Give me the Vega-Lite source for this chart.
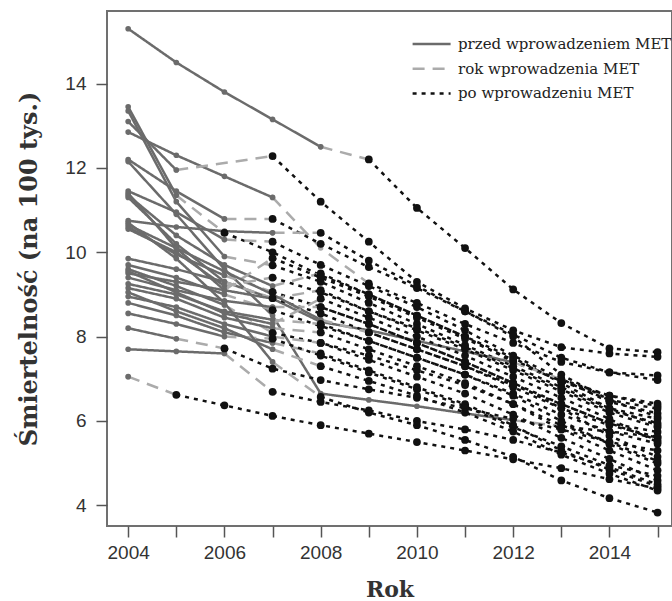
{
"$schema": "https://vega.github.io/schema/vega-lite/v6.json",
"width": 565, "height": 515,
"autosize": {"type": "none"},
"padding": {"left": 107, "top": 11, "right": 0, "bottom": 75},
"background": "white",
"config": {
  "view": {"stroke": "#707070", "strokeWidth": 2},
  "legend": {"orient": "none", "legendX": 313.6, "legendY": 22, "title": null, "symbolType": "M-2,0L2,0", "symbolSize": 361, "symbolStrokeWidth": 2.5, "labelFont": "DejaVu Serif", "labelFontSize": 15, "labelColor": "#222", "labelOffset": 15.4, "rowPadding": 5.7, "labelLimit": 400}
},
"data": {"values": [
{"s":1,"g":"pre","x":2004,"y":15.3},{"s":1,"g":"pre","x":2005,"y":14.5},{"s":1,"g":"pre","x":2006,"y":13.8},{"s":1,"g":"pre","x":2007,"y":13.15},{"s":1,"g":"pre","x":2008,"y":12.5},
{"s":1,"g":"rok","x":2008,"y":12.5},{"s":1,"g":"rok","x":2009,"y":12.2},
{"s":1,"g":"po","x":2009,"y":12.2},{"s":1,"g":"po","x":2010,"y":11.05},{"s":1,"g":"po","x":2011,"y":10.1},{"s":1,"g":"po","x":2012,"y":9.12},{"s":1,"g":"po","x":2013,"y":8.32},{"s":1,"g":"po","x":2014,"y":7.72},{"s":1,"g":"po","x":2015,"y":7.63},

{"s":2,"g":"pre","x":2004,"y":12.85},{"s":2,"g":"pre","x":2005,"y":12.3},{"s":2,"g":"pre","x":2006,"y":11.8},{"s":2,"g":"pre","x":2007,"y":11.3},
{"s":2,"g":"rok","x":2007,"y":11.3},{"s":2,"g":"rok","x":2008,"y":10.1},{"s":2,"g":"rok","x":2009,"y":9.26},
{"s":2,"g":"po","x":2009,"y":9.26},{"s":2,"g":"po","x":2010,"y":8.8},{"s":2,"g":"po","x":2011,"y":8.3},{"s":2,"g":"po","x":2012,"y":7.85},{"s":2,"g":"po","x":2013,"y":7.4},{"s":2,"g":"po","x":2014,"y":7.15},{"s":2,"g":"po","x":2015,"y":7.08},

{"s":3,"g":"pre","x":2004,"y":13.1},{"s":3,"g":"pre","x":2005,"y":11.95},
{"s":3,"g":"rok","x":2005,"y":11.95},{"s":3,"g":"rok","x":2007,"y":12.28},
{"s":3,"g":"po","x":2007,"y":12.28},{"s":3,"g":"po","x":2008,"y":11.2},{"s":3,"g":"po","x":2009,"y":10.25},{"s":3,"g":"po","x":2010,"y":9.3},{"s":3,"g":"po","x":2011,"y":8.67},{"s":3,"g":"po","x":2012,"y":8.15},{"s":3,"g":"po","x":2013,"y":7.75},{"s":3,"g":"po","x":2014,"y":7.6},{"s":3,"g":"po","x":2015,"y":7.52},

{"s":4,"g":"pre","x":2004,"y":13.45},{"s":4,"g":"pre","x":2005,"y":11.35},
{"s":4,"g":"rok","x":2005,"y":11.35},{"s":4,"g":"rok","x":2006,"y":10.46},
{"s":4,"g":"po","x":2006,"y":10.46},{"s":4,"g":"po","x":2007,"y":10.0},{"s":4,"g":"po","x":2008,"y":9.45},{"s":4,"g":"po","x":2009,"y":9.0},{"s":4,"g":"po","x":2010,"y":8.5},{"s":4,"g":"po","x":2011,"y":8.0},{"s":4,"g":"po","x":2012,"y":7.4},{"s":4,"g":"po","x":2013,"y":6.95},{"s":4,"g":"po","x":2014,"y":6.6},{"s":4,"g":"po","x":2015,"y":6.41},

{"s":5,"g":"pre","x":2004,"y":12.2},{"s":5,"g":"pre","x":2005,"y":11.45},{"s":5,"g":"pre","x":2006,"y":10.79},
{"s":5,"g":"rok","x":2006,"y":10.79},{"s":5,"g":"rok","x":2007,"y":10.79},
{"s":5,"g":"po","x":2007,"y":10.79},{"s":5,"g":"po","x":2008,"y":10.2},{"s":5,"g":"po","x":2009,"y":9.65},{"s":5,"g":"po","x":2010,"y":9.15},{"s":5,"g":"po","x":2011,"y":8.6},{"s":5,"g":"po","x":2012,"y":8.05},{"s":5,"g":"po","x":2013,"y":7.5},{"s":5,"g":"po","x":2014,"y":7.15},{"s":5,"g":"po","x":2015,"y":6.97},

{"s":6,"g":"pre","x":2004,"y":10.75},{"s":6,"g":"pre","x":2005,"y":10.6},{"s":6,"g":"pre","x":2006,"y":10.5},{"s":6,"g":"pre","x":2007,"y":10.46},
{"s":6,"g":"rok","x":2007,"y":10.46},{"s":6,"g":"rok","x":2008,"y":10.46},
{"s":6,"g":"po","x":2008,"y":10.46},{"s":6,"g":"po","x":2009,"y":9.8},{"s":6,"g":"po","x":2010,"y":9.2},{"s":6,"g":"po","x":2011,"y":8.6},{"s":6,"g":"po","x":2012,"y":8.0},{"s":6,"g":"po","x":2013,"y":7.1},{"s":6,"g":"po","x":2014,"y":6.5},{"s":6,"g":"po","x":2015,"y":6.29},

{"s":7,"g":"pre","x":2004,"y":11.45},{"s":7,"g":"pre","x":2005,"y":10.95},{"s":7,"g":"pre","x":2006,"y":10.3},
{"s":7,"g":"rok","x":2006,"y":10.3},{"s":7,"g":"rok","x":2007,"y":10.25},
{"s":7,"g":"po","x":2007,"y":10.25},{"s":7,"g":"po","x":2008,"y":9.7},{"s":7,"g":"po","x":2009,"y":9.2},{"s":7,"g":"po","x":2010,"y":8.7},{"s":7,"g":"po","x":2011,"y":8.15},{"s":7,"g":"po","x":2012,"y":7.55},{"s":7,"g":"po","x":2013,"y":7.0},{"s":7,"g":"po","x":2014,"y":6.45},{"s":7,"g":"po","x":2015,"y":6.18},

{"s":8,"g":"pre","x":2004,"y":13.35},{"s":8,"g":"pre","x":2005,"y":11.2},{"s":8,"g":"pre","x":2006,"y":9.9},
{"s":8,"g":"rok","x":2006,"y":9.9},{"s":8,"g":"rok","x":2007,"y":9.69},
{"s":8,"g":"po","x":2007,"y":9.69},{"s":8,"g":"po","x":2008,"y":9.3},{"s":8,"g":"po","x":2009,"y":8.8},{"s":8,"g":"po","x":2010,"y":8.3},{"s":8,"g":"po","x":2011,"y":7.8},{"s":8,"g":"po","x":2012,"y":7.3},{"s":8,"g":"po","x":2013,"y":6.8},{"s":8,"g":"po","x":2014,"y":6.3},{"s":8,"g":"po","x":2015,"y":6.05},

{"s":9,"g":"pre","x":2004,"y":11.35},{"s":9,"g":"pre","x":2005,"y":10.4},{"s":9,"g":"pre","x":2006,"y":9.7},{"s":9,"g":"pre","x":2007,"y":9.2},
{"s":9,"g":"rok","x":2007,"y":9.2},{"s":9,"g":"rok","x":2008,"y":9.5},
{"s":9,"g":"po","x":2008,"y":9.5},{"s":9,"g":"po","x":2009,"y":9.0},{"s":9,"g":"po","x":2010,"y":8.5},{"s":9,"g":"po","x":2011,"y":8.0},{"s":9,"g":"po","x":2012,"y":7.5},{"s":9,"g":"po","x":2013,"y":6.9},{"s":9,"g":"po","x":2014,"y":6.3},{"s":9,"g":"po","x":2015,"y":5.9},

{"s":10,"g":"pre","x":2004,"y":11.3},{"s":10,"g":"pre","x":2005,"y":10.2},{"s":10,"g":"pre","x":2006,"y":9.3},{"s":10,"g":"pre","x":2007,"y":8.9},{"s":10,"g":"pre","x":2008,"y":8.35},{"s":10,"g":"pre","x":2009,"y":8.15},{"s":10,"g":"pre","x":2010,"y":7.9},{"s":10,"g":"pre","x":2011,"y":7.65},{"s":10,"g":"pre","x":2012,"y":7.39},
{"s":10,"g":"rok","x":2012,"y":7.39},{"s":10,"g":"rok","x":2013,"y":6.99},
{"s":10,"g":"po","x":2013,"y":6.99},{"s":10,"g":"po","x":2014,"y":6.6},{"s":10,"g":"po","x":2015,"y":6.35},

{"s":11,"g":"pre","x":2004,"y":12.15},{"s":11,"g":"pre","x":2005,"y":10.9},{"s":11,"g":"pre","x":2006,"y":9.6},{"s":11,"g":"pre","x":2007,"y":8.5},{"s":11,"g":"pre","x":2008,"y":6.65},{"s":11,"g":"pre","x":2009,"y":6.5},{"s":11,"g":"pre","x":2010,"y":6.35},{"s":11,"g":"pre","x":2011,"y":6.18},{"s":11,"g":"pre","x":2012,"y":6.02},
{"s":11,"g":"rok","x":2012,"y":6.02},{"s":11,"g":"rok","x":2013,"y":5.87},
{"s":11,"g":"po","x":2013,"y":5.87},{"s":11,"g":"po","x":2014,"y":5.75},{"s":11,"g":"po","x":2015,"y":5.62},

{"s":12,"g":"pre","x":2004,"y":10.6},{"s":12,"g":"pre","x":2005,"y":9.95},{"s":12,"g":"pre","x":2006,"y":9.45},
{"s":12,"g":"rok","x":2006,"y":9.45},{"s":12,"g":"rok","x":2007,"y":9.06},
{"s":12,"g":"po","x":2007,"y":9.06},{"s":12,"g":"po","x":2008,"y":8.7},{"s":12,"g":"po","x":2009,"y":8.3},{"s":12,"g":"po","x":2010,"y":7.85},{"s":12,"g":"po","x":2011,"y":7.4},{"s":12,"g":"po","x":2012,"y":6.9},{"s":12,"g":"po","x":2013,"y":6.4},{"s":12,"g":"po","x":2014,"y":5.95},{"s":12,"g":"po","x":2015,"y":5.74},

{"s":13,"g":"pre","x":2004,"y":9.85},{"s":13,"g":"pre","x":2005,"y":9.6},{"s":13,"g":"pre","x":2006,"y":9.3},
{"s":13,"g":"rok","x":2006,"y":9.3},{"s":13,"g":"rok","x":2007,"y":8.91},
{"s":13,"g":"po","x":2007,"y":8.91},{"s":13,"g":"po","x":2008,"y":8.55},{"s":13,"g":"po","x":2009,"y":8.1},{"s":13,"g":"po","x":2010,"y":7.7},{"s":13,"g":"po","x":2011,"y":7.3},{"s":13,"g":"po","x":2012,"y":6.8},{"s":13,"g":"po","x":2013,"y":6.3},{"s":13,"g":"po","x":2014,"y":5.9},{"s":13,"g":"po","x":2015,"y":5.62},

{"s":14,"g":"pre","x":2004,"y":9.7},{"s":14,"g":"pre","x":2005,"y":9.4},{"s":14,"g":"pre","x":2006,"y":9.0},
{"s":14,"g":"rok","x":2006,"y":9.0},{"s":14,"g":"rok","x":2007,"y":8.63},
{"s":14,"g":"po","x":2007,"y":8.63},{"s":14,"g":"po","x":2008,"y":8.25},{"s":14,"g":"po","x":2009,"y":7.9},{"s":14,"g":"po","x":2010,"y":7.5},{"s":14,"g":"po","x":2011,"y":7.1},{"s":14,"g":"po","x":2012,"y":6.65},{"s":14,"g":"po","x":2013,"y":6.15},{"s":14,"g":"po","x":2014,"y":5.75},{"s":14,"g":"po","x":2015,"y":5.46},

{"s":15,"g":"pre","x":2004,"y":9.6},{"s":15,"g":"pre","x":2005,"y":9.2},{"s":15,"g":"pre","x":2006,"y":8.75},
{"s":15,"g":"rok","x":2006,"y":8.75},{"s":15,"g":"rok","x":2007,"y":8.09},
{"s":15,"g":"po","x":2007,"y":8.09},{"s":15,"g":"po","x":2008,"y":7.85},{"s":15,"g":"po","x":2009,"y":7.55},{"s":15,"g":"po","x":2010,"y":7.2},{"s":15,"g":"po","x":2011,"y":6.85},{"s":15,"g":"po","x":2012,"y":6.4},{"s":15,"g":"po","x":2013,"y":5.9},{"s":15,"g":"po","x":2014,"y":5.5},{"s":15,"g":"po","x":2015,"y":5.3},

{"s":16,"g":"pre","x":2004,"y":9.5},{"s":16,"g":"pre","x":2005,"y":9.3},{"s":16,"g":"pre","x":2006,"y":9.1},{"s":16,"g":"pre","x":2007,"y":8.9},
{"s":16,"g":"rok","x":2007,"y":8.9},{"s":16,"g":"rok","x":2008,"y":9.1},
{"s":16,"g":"po","x":2008,"y":9.1},{"s":16,"g":"po","x":2009,"y":8.6},{"s":16,"g":"po","x":2010,"y":8.15},{"s":16,"g":"po","x":2011,"y":7.7},{"s":16,"g":"po","x":2012,"y":7.2},{"s":16,"g":"po","x":2013,"y":6.7},{"s":16,"g":"po","x":2014,"y":6.2},{"s":16,"g":"po","x":2015,"y":5.85},

{"s":17,"g":"pre","x":2004,"y":9.4},{"s":17,"g":"pre","x":2005,"y":9.1},{"s":17,"g":"pre","x":2006,"y":8.85},{"s":17,"g":"pre","x":2007,"y":8.7},
{"s":17,"g":"rok","x":2007,"y":8.7},{"s":17,"g":"rok","x":2008,"y":8.7},
{"s":17,"g":"po","x":2008,"y":8.7},{"s":17,"g":"po","x":2009,"y":8.3},{"s":17,"g":"po","x":2010,"y":7.85},{"s":17,"g":"po","x":2011,"y":7.4},{"s":17,"g":"po","x":2012,"y":6.9},{"s":17,"g":"po","x":2013,"y":6.3},{"s":17,"g":"po","x":2014,"y":5.65},{"s":17,"g":"po","x":2015,"y":5.15},

{"s":18,"g":"pre","x":2004,"y":9.25},{"s":18,"g":"pre","x":2005,"y":9.0},{"s":18,"g":"pre","x":2006,"y":8.6},{"s":18,"g":"pre","x":2007,"y":8.4},
{"s":18,"g":"rok","x":2007,"y":8.4},{"s":18,"g":"rok","x":2008,"y":8.3},
{"s":18,"g":"po","x":2008,"y":8.3},{"s":18,"g":"po","x":2009,"y":7.9},{"s":18,"g":"po","x":2010,"y":7.5},{"s":18,"g":"po","x":2011,"y":7.1},{"s":18,"g":"po","x":2012,"y":6.6},{"s":18,"g":"po","x":2013,"y":6.0},{"s":18,"g":"po","x":2014,"y":5.45},{"s":18,"g":"po","x":2015,"y":4.99},

{"s":19,"g":"pre","x":2004,"y":9.15},{"s":19,"g":"pre","x":2005,"y":8.9},{"s":19,"g":"pre","x":2006,"y":8.45},{"s":19,"g":"pre","x":2007,"y":8.2},
{"s":19,"g":"rok","x":2007,"y":8.2},{"s":19,"g":"rok","x":2008,"y":8.1},
{"s":19,"g":"po","x":2008,"y":8.1},{"s":19,"g":"po","x":2009,"y":7.7},{"s":19,"g":"po","x":2010,"y":7.3},{"s":19,"g":"po","x":2011,"y":6.9},{"s":19,"g":"po","x":2012,"y":6.4},{"s":19,"g":"po","x":2013,"y":5.8},{"s":19,"g":"po","x":2014,"y":5.3},{"s":19,"g":"po","x":2015,"y":4.83},

{"s":20,"g":"pre","x":2004,"y":8.95},{"s":20,"g":"pre","x":2005,"y":8.7},{"s":20,"g":"pre","x":2006,"y":8.3},{"s":20,"g":"pre","x":2007,"y":8.0},
{"s":20,"g":"rok","x":2007,"y":8.0},{"s":20,"g":"rok","x":2008,"y":7.85},
{"s":20,"g":"po","x":2008,"y":7.85},{"s":20,"g":"po","x":2009,"y":7.45},{"s":20,"g":"po","x":2010,"y":7.05},{"s":20,"g":"po","x":2011,"y":6.65},{"s":20,"g":"po","x":2012,"y":6.15},{"s":20,"g":"po","x":2013,"y":5.6},{"s":20,"g":"po","x":2014,"y":5.1},{"s":20,"g":"po","x":2015,"y":4.59},

{"s":21,"g":"pre","x":2004,"y":8.8},{"s":21,"g":"pre","x":2005,"y":8.5},{"s":21,"g":"pre","x":2006,"y":8.1},{"s":21,"g":"pre","x":2007,"y":7.85},
{"s":21,"g":"rok","x":2007,"y":7.85},{"s":21,"g":"rok","x":2008,"y":7.6},
{"s":21,"g":"po","x":2008,"y":7.6},{"s":21,"g":"po","x":2009,"y":7.2},{"s":21,"g":"po","x":2010,"y":6.8},{"s":21,"g":"po","x":2011,"y":6.4},{"s":21,"g":"po","x":2012,"y":5.9},{"s":21,"g":"po","x":2013,"y":5.3},{"s":21,"g":"po","x":2014,"y":4.85},{"s":21,"g":"po","x":2015,"y":4.45},

{"s":22,"g":"pre","x":2004,"y":8.55},{"s":22,"g":"pre","x":2005,"y":8.3},{"s":22,"g":"pre","x":2006,"y":8.0},
{"s":22,"g":"rok","x":2006,"y":8.0},{"s":22,"g":"rok","x":2007,"y":7.95},
{"s":22,"g":"po","x":2007,"y":7.95},{"s":22,"g":"po","x":2008,"y":7.55},{"s":22,"g":"po","x":2009,"y":7.15},{"s":22,"g":"po","x":2010,"y":6.75},{"s":22,"g":"po","x":2011,"y":6.35},{"s":22,"g":"po","x":2012,"y":5.85},{"s":22,"g":"po","x":2013,"y":5.4},{"s":22,"g":"po","x":2014,"y":4.95},{"s":22,"g":"po","x":2015,"y":4.7},

{"s":23,"g":"pre","x":2004,"y":8.2},{"s":23,"g":"pre","x":2005,"y":7.95},
{"s":23,"g":"rok","x":2005,"y":7.95},{"s":23,"g":"rok","x":2006,"y":7.72},
{"s":23,"g":"po","x":2006,"y":7.72},{"s":23,"g":"po","x":2007,"y":7.24},{"s":23,"g":"po","x":2008,"y":6.97},{"s":23,"g":"po","x":2009,"y":6.75},{"s":23,"g":"po","x":2010,"y":6.55},{"s":23,"g":"po","x":2011,"y":6.3},{"s":23,"g":"po","x":2012,"y":6.05},{"s":23,"g":"po","x":2013,"y":5.8},{"s":23,"g":"po","x":2014,"y":5.5},{"s":23,"g":"po","x":2015,"y":5.05},

{"s":24,"g":"pre","x":2004,"y":7.7},{"s":24,"g":"pre","x":2005,"y":7.65},{"s":24,"g":"pre","x":2006,"y":7.6},
{"s":24,"g":"rok","x":2006,"y":7.6},{"s":24,"g":"rok","x":2007,"y":6.69},
{"s":24,"g":"po","x":2007,"y":6.69},{"s":24,"g":"po","x":2008,"y":6.45},{"s":24,"g":"po","x":2009,"y":6.25},{"s":24,"g":"po","x":2010,"y":6.0},{"s":24,"g":"po","x":2011,"y":5.8},{"s":24,"g":"po","x":2012,"y":5.55},{"s":24,"g":"po","x":2013,"y":5.25},{"s":24,"g":"po","x":2014,"y":4.9},{"s":24,"g":"po","x":2015,"y":4.5},

{"s":25,"g":"pre","x":2004,"y":7.05},
{"s":25,"g":"rok","x":2004,"y":7.05},{"s":25,"g":"rok","x":2005,"y":6.62},
{"s":25,"g":"po","x":2005,"y":6.62},{"s":25,"g":"po","x":2006,"y":6.37},{"s":25,"g":"po","x":2007,"y":6.12},{"s":25,"g":"po","x":2008,"y":5.9},{"s":25,"g":"po","x":2009,"y":5.7},{"s":25,"g":"po","x":2010,"y":5.5},{"s":25,"g":"po","x":2011,"y":5.3},{"s":25,"g":"po","x":2012,"y":5.09},{"s":25,"g":"po","x":2013,"y":4.88},{"s":25,"g":"po","x":2014,"y":4.62},{"s":25,"g":"po","x":2015,"y":4.4},

{"s":26,"g":"pre","x":2004,"y":10.7},{"s":26,"g":"pre","x":2005,"y":9.85},{"s":26,"g":"pre","x":2006,"y":8.8},{"s":26,"g":"pre","x":2007,"y":7.4},
{"s":26,"g":"rok","x":2007,"y":7.4},{"s":26,"g":"rok","x":2008,"y":6.57},
{"s":26,"g":"po","x":2008,"y":6.57},{"s":26,"g":"po","x":2009,"y":6.2},{"s":26,"g":"po","x":2010,"y":5.9},{"s":26,"g":"po","x":2011,"y":5.55},{"s":26,"g":"po","x":2012,"y":5.15},{"s":26,"g":"po","x":2013,"y":4.59},{"s":26,"g":"po","x":2014,"y":4.17},{"s":26,"g":"po","x":2015,"y":3.83},

{"s":27,"g":"pre","x":2004,"y":11.4},{"s":27,"g":"pre","x":2005,"y":10.1},{"s":27,"g":"pre","x":2006,"y":9.1},
{"s":27,"g":"rok","x":2006,"y":9.1},{"s":27,"g":"rok","x":2007,"y":9.86},
{"s":27,"g":"po","x":2007,"y":9.86},{"s":27,"g":"po","x":2008,"y":9.4},{"s":27,"g":"po","x":2009,"y":8.95},{"s":27,"g":"po","x":2010,"y":8.45},{"s":27,"g":"po","x":2011,"y":7.95},{"s":27,"g":"po","x":2012,"y":7.45},{"s":27,"g":"po","x":2013,"y":6.95},{"s":27,"g":"po","x":2014,"y":6.5},{"s":27,"g":"po","x":2015,"y":6.1},

{"s":28,"g":"pre","x":2004,"y":10.65},{"s":28,"g":"pre","x":2005,"y":10.1},{"s":28,"g":"pre","x":2006,"y":9.55},{"s":28,"g":"pre","x":2007,"y":9.0},{"s":28,"g":"pre","x":2008,"y":8.4},
{"s":28,"g":"rok","x":2008,"y":8.4},{"s":28,"g":"rok","x":2009,"y":8.1},
{"s":28,"g":"po","x":2009,"y":8.1},{"s":28,"g":"po","x":2010,"y":7.7},{"s":28,"g":"po","x":2011,"y":7.3},{"s":28,"g":"po","x":2012,"y":6.85},{"s":28,"g":"po","x":2013,"y":6.4},{"s":28,"g":"po","x":2014,"y":5.95},{"s":28,"g":"po","x":2015,"y":5.55},

{"s":29,"g":"pre","x":2004,"y":9.55},{"s":29,"g":"pre","x":2005,"y":9.05},{"s":29,"g":"pre","x":2006,"y":8.55},{"s":29,"g":"pre","x":2007,"y":8.3},
{"s":29,"g":"rok","x":2007,"y":8.3},{"s":29,"g":"rok","x":2008,"y":8.9},
{"s":29,"g":"po","x":2008,"y":8.9},{"s":29,"g":"po","x":2009,"y":8.45},{"s":29,"g":"po","x":2010,"y":8.0},{"s":29,"g":"po","x":2011,"y":7.55},{"s":29,"g":"po","x":2012,"y":7.05},{"s":29,"g":"po","x":2013,"y":6.55},{"s":29,"g":"po","x":2014,"y":6.05},{"s":29,"g":"po","x":2015,"y":5.5},

{"s":30,"g":"pre","x":2004,"y":10.55},{"s":30,"g":"pre","x":2005,"y":10.0},{"s":30,"g":"pre","x":2006,"y":9.2},
{"s":30,"g":"rok","x":2006,"y":9.2},{"s":30,"g":"rok","x":2007,"y":9.4},
{"s":30,"g":"po","x":2007,"y":9.4},{"s":30,"g":"po","x":2008,"y":9.05},{"s":30,"g":"po","x":2009,"y":8.6},{"s":30,"g":"po","x":2010,"y":8.2},{"s":30,"g":"po","x":2011,"y":7.75},{"s":30,"g":"po","x":2012,"y":7.25},{"s":30,"g":"po","x":2013,"y":6.75},{"s":30,"g":"po","x":2014,"y":6.25},{"s":30,"g":"po","x":2015,"y":5.95},

{"s":31,"g":"pre","x":2004,"y":9.05},{"s":31,"g":"pre","x":2005,"y":8.6},{"s":31,"g":"pre","x":2006,"y":8.2},{"s":31,"g":"pre","x":2007,"y":7.7},
{"s":31,"g":"rok","x":2007,"y":7.7},{"s":31,"g":"rok","x":2008,"y":7.3},
{"s":31,"g":"po","x":2008,"y":7.3},{"s":31,"g":"po","x":2009,"y":6.95},{"s":31,"g":"po","x":2010,"y":6.6},{"s":31,"g":"po","x":2011,"y":6.2},{"s":31,"g":"po","x":2012,"y":5.75},{"s":31,"g":"po","x":2013,"y":5.2},{"s":31,"g":"po","x":2014,"y":4.75},{"s":31,"g":"po","x":2015,"y":4.35}
]},
"encoding": {
  "x": {"field": "x", "type": "quantitative",
    "scale": {"domain": [2003.56, 2015.3], "nice": false, "zero": false},
    "axis": {"title": "Rok", "values": [2004,2005,2006,2007,2008,2009,2010,2011,2012,2013,2014,2015], "format": "d",
      "labelExpr": "datum.value % 2 == 0 ? datum.label : ''",
      "grid": false, "domain": false, "tickSize": 11, "tickColor": "#555", "tickWidth": 1.5,
      "labelFont": "Liberation Sans", "labelFontSize": 19, "labelColor": "#333", "labelPadding": 6, "labelOverlap": false,
      "titleFont": "DejaVu Serif", "titleFontSize": 22, "titleFontWeight": "bold", "titleColor": "#333", "titlePadding": 17}},
  "y": {"field": "y", "type": "quantitative",
    "scale": {"domain": [3.51, 15.72], "nice": false, "zero": false},
    "axis": {"title": "Śmiertelność (na 100 tys.)", "values": [4,6,8,10,12,14],
      "grid": false, "domain": false, "tickSize": 11, "tickColor": "#555", "tickWidth": 1.5,
      "labelFont": "Liberation Sans", "labelFontSize": 19, "labelColor": "#333", "labelPadding": 10,
      "titleFont": "DejaVu Serif", "titleFontSize": 24, "titleFontWeight": "bold", "titleColor": "#333", "titlePadding": 23}}
},
"layer": [
  {"mark": {"type": "line"},
   "encoding": {
     "detail": {"field": "s", "type": "nominal"},
     "color": {"field": "g", "type": "nominal", "scale": {"domain": ["pre","rok","po"], "range": ["#6b6b6b","#ababab","#111111"]},
       "legend": {"labelExpr": "datum.label == 'pre' ? 'przed wprowadzeniem MET' : datum.label == 'rok' ? 'rok wprowadzenia MET' : 'po wprowadzeniu MET'"}},
     "strokeDash": {"field": "g", "type": "nominal", "scale": {"domain": ["pre","rok","po"], "range": [[1,0],[12,8],[4,5]]},
       "legend": {"labelExpr": "datum.label == 'pre' ? 'przed wprowadzeniem MET' : datum.label == 'rok' ? 'rok wprowadzenia MET' : 'po wprowadzeniu MET'"}},
     "strokeWidth": {"field": "g", "type": "nominal", "scale": {"domain": ["pre","rok","po"], "range": [2.5,2.5,3]},
       "legend": {"labelExpr": "datum.label == 'pre' ? 'przed wprowadzeniem MET' : datum.label == 'rok' ? 'rok wprowadzenia MET' : 'po wprowadzeniu MET'"}}
   }},
  {"transform": [{"filter": "datum.g == 'rok'"}],
   "mark": {"type": "circle", "color": "#ababab", "size": 30, "opacity": 1}},
  {"transform": [{"filter": "datum.g == 'pre'"}],
   "mark": {"type": "circle", "color": "#6b6b6b", "size": 32, "opacity": 1}},
  {"transform": [{"filter": "datum.g == 'po'"}],
   "mark": {"type": "circle", "color": "#111111", "size": 60, "opacity": 1}}
]
}
